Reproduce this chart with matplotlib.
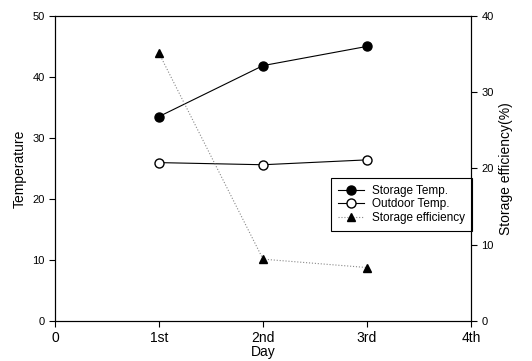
import matplotlib.pyplot as plt

plt.rcParams['font.family'] = ['Liberation Sans', 'DejaVu Sans']

# Data
days = [1, 2, 3]
day_ticks = [0, 1, 2, 3, 4]
day_labels = ['0', '1st', '2nd', '3rd', '4th']
storage_temp = [33.5, 41.85, 45.0]
outdoor_temp = [25.95, 25.6, 26.4]
storage_eff = [35.1, 8.1, 7.0]

fig = plt.figure(figsize=(5.32, 3.61), dpi=100)
ax = fig.add_axes([0.1034, 0.111, 0.782, 0.845])
ax2 = ax.twinx()

l1, = ax.plot(days, storage_temp, '-o', color='black', lw=0.8, ms=6.5,
              label='Storage Temp.')
l2, = ax.plot(days, outdoor_temp, '-o', color='black', lw=0.8, ms=6.5,
              mfc='white', label='Outdoor Temp.')
l3, = ax2.plot(days, storage_eff, ':^', color='#888888', lw=0.8, ms=6,
               mfc='black', mec='black', label='Storage efficiency')

ax.set_xlim(0, 4)
ax.set_ylim(0, 50)
ax2.set_ylim(0, 40)
ax.set_xticks(day_ticks)
ax.set_xticklabels(day_labels, fontsize=10)
ax.set_yticks(range(0, 51, 10))
ax2.set_yticks(range(0, 41, 10))
ax.tick_params(axis='y', labelsize=8, direction='out', length=4, width=0.8)
ax.tick_params(axis='x', direction='out', length=4, width=0.8, pad=3)
ax2.tick_params(axis='y', labelsize=8, direction='out', length=4, width=0.8)

ax.set_xlabel('Day', fontsize=10, labelpad=0)
ax.set_ylabel('Temperature', fontsize=10)
ax2.set_ylabel('Storage efficiency(%)', fontsize=10)

for a in (ax, ax2):
    for s in a.spines.values():
        s.set_linewidth(0.8)

leg = ax.legend(handles=[l1, l2, l3], loc='upper right',
                bbox_to_anchor=(1.003, 0.469), borderaxespad=0,
                fontsize=8.5, frameon=True, fancybox=False, framealpha=1,
                edgecolor='black', handlelength=2.2, borderpad=0.6,
                labelspacing=0.12, handletextpad=0.7)
leg.get_frame().set_linewidth(0.8)

fig.savefig('out.png', dpi=100)
